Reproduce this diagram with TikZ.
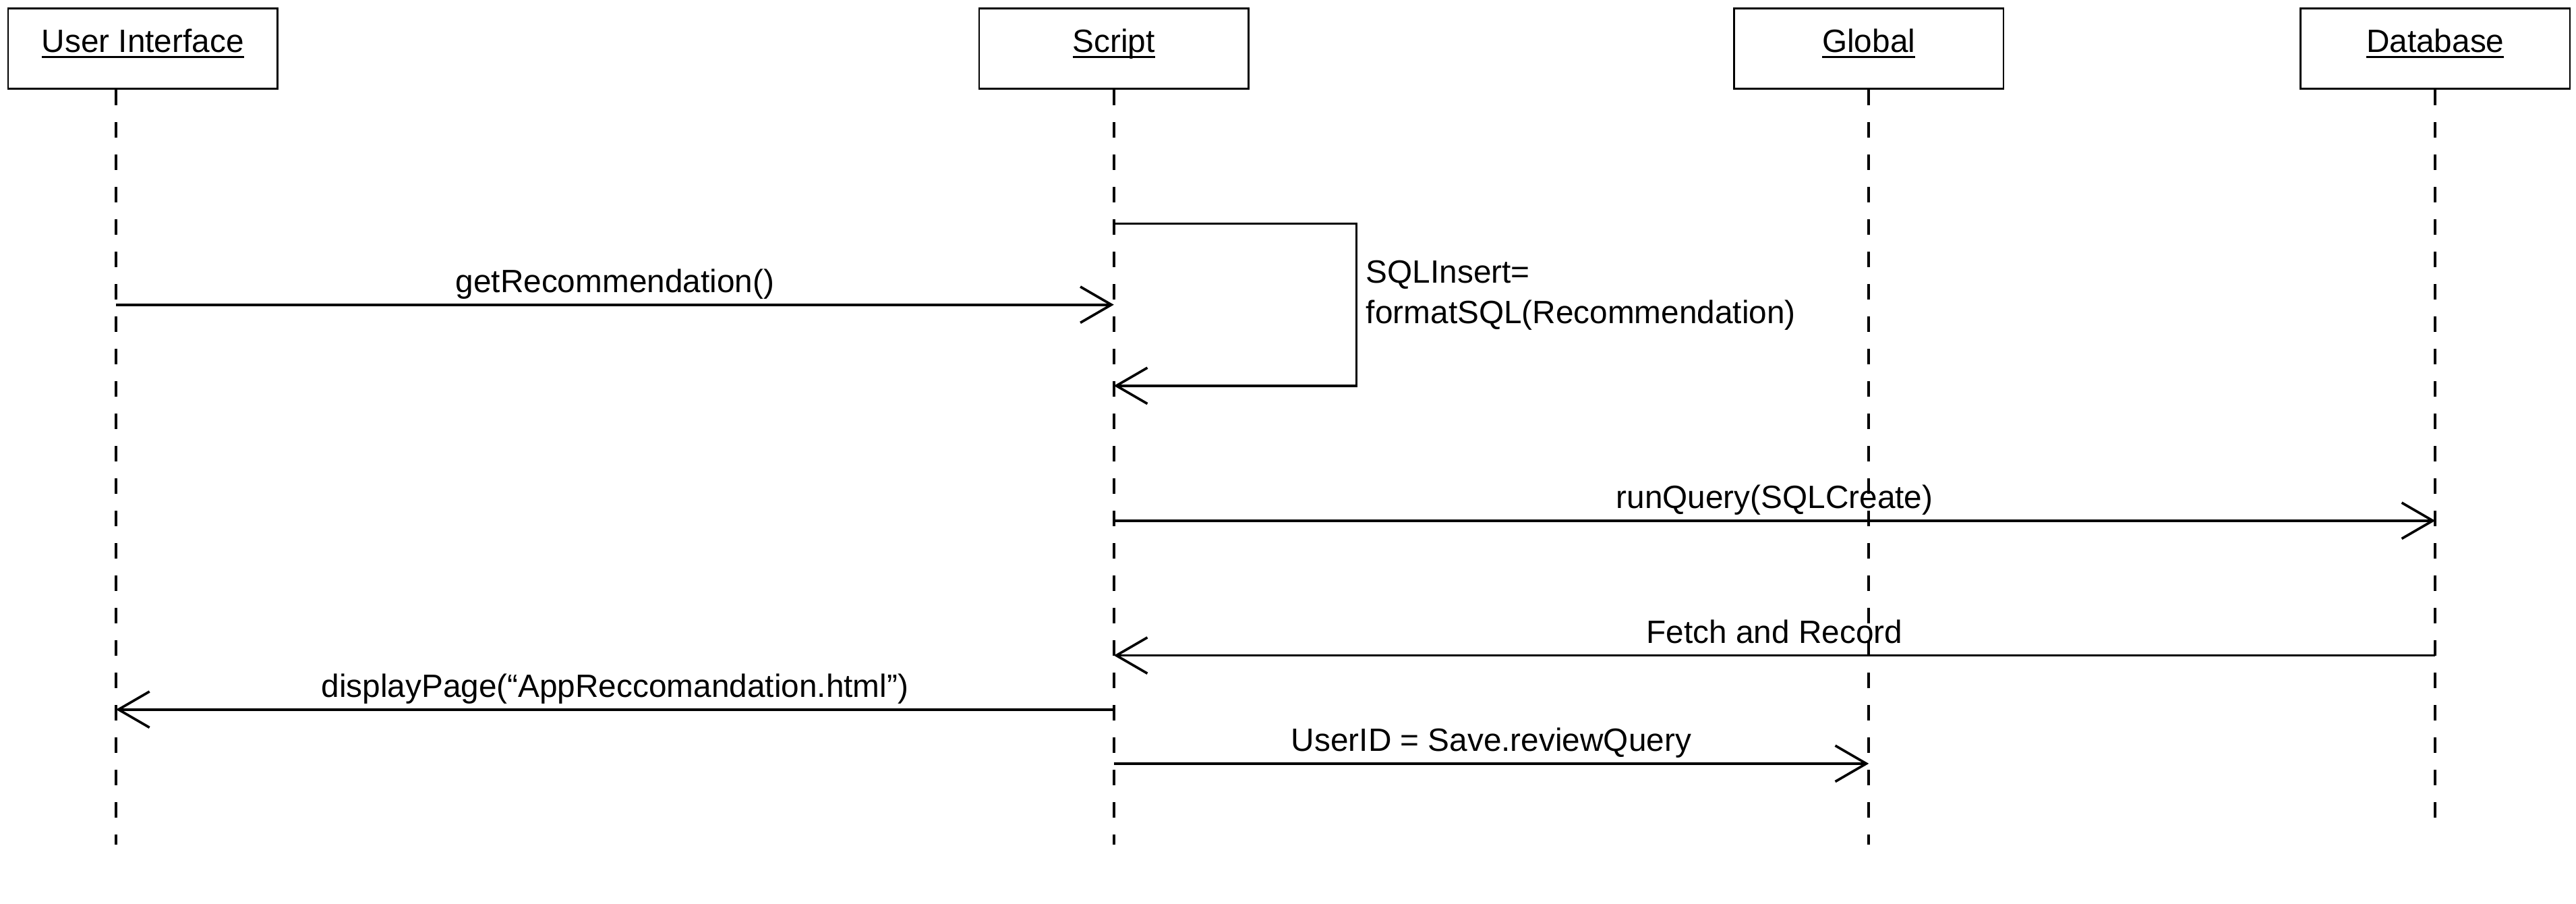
\documentclass[tikz,border=0pt]{standalone}
\usepackage{fontspec}
\setmainfont{Liberation Sans}
\usetikzlibrary{arrows.meta,positioning}

\newcommand\uname[1]{\setbox0=\hbox{#1}\rlap{\rule[-3.7pt]{\wd0}{1.35pt}}\box0}

\tikzset{
    actor/.style={draw, line width=1.1pt, minimum width=164pt, inner sep=0pt,
        text height=26.6pt, text depth=22.4pt},
    lifeline/.style={line width=1.5pt, dash pattern=on 9.6pt off 10.1pt},
    msg/.style={line width=1.5pt, -{Straight Barb[length=18.9pt,width=21.9pt]}},
    lbl/.style={anchor=base, inner sep=0pt, yshift=7.4pt}
}

\begin{document}
\begin{tikzpicture}[x=1pt, y=-1pt, every node/.style={font=\fontsize{19.6}{25}\selectfont}]
    \useasboundingbox (0,0) rectangle (1568,550);

    % objects
    \node[actor] (ui) at (86.9, 29.55) {\uname{User Interface}};
    \node[actor] (script) at (678, 29.55) {\uname{Script}};
    \node[actor] (global) at (1137.5, 29.55) {\uname{Global}};
    \node[actor] (db) at (1482.3, 29.55) {\uname{Database}};

    \coordinate (uiL) at ([xshift=-16.3pt]ui.south);
    \coordinate (scL) at (script.south);
    \coordinate (glL) at (global.south);
    \coordinate (dbL) at (db.south);

    % lifelines
    \foreach \a/\e in {uiL/513.8, scL/513.8, glL/513.8, dbL/500}
        \draw[lifeline] (\a) -- (\a |- 0,\e);

    % messages
    \draw[msg] (uiL |- 0,185.4) -- (scL |- 0,185.4)
        node[lbl, midway] (getrec) {getRecommendation()};

    \draw[msg] (scL |- 0,136.1) -- ++(147.6,0) coordinate (selfcorner) |- (scL |- 0,234.7);
    \node[inner sep=0pt, anchor=base west] (sqlins) at (831.4,172) {SQLInsert=};
    \node[inner sep=0pt, anchor=base west] (sqlfmt) at ([yshift=-25pt]sqlins.base west) {formatSQL(Recommendation)};

    \draw[msg] (scL |- 0,316.8) -- (dbL |- 0,316.8)
        node[lbl, midway] (runq) {runQuery(SQLCreate)};

    \draw[msg] (dbL |- 0,398.8) -- (scL |- 0,398.8)
        node[lbl, midway] (fetch) {Fetch and Record};

    \draw[msg] (scL |- 0,431.7) -- (uiL |- 0,431.7)
        node[lbl, midway] (disp) {displayPage(“AppReccomandation.html”)};

    \draw[msg] (scL |- 0,464.6) -- (glL |- 0,464.6)
        node[lbl, midway] (save) {UserID = Save.reviewQuery};
\end{tikzpicture}
\end{document}
